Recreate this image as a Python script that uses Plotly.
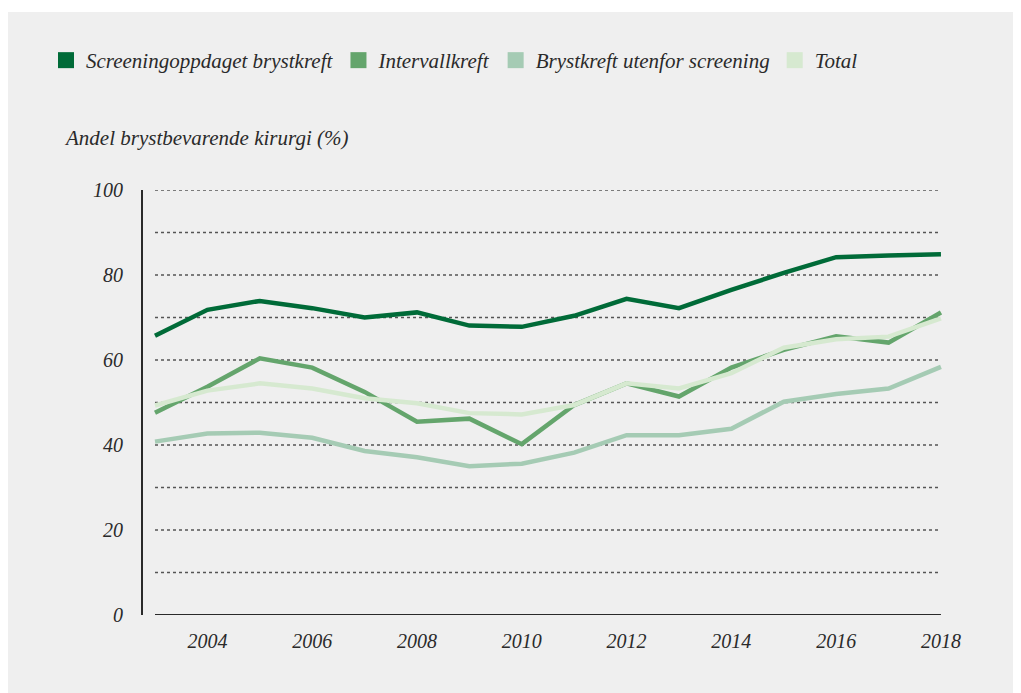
import plotly.graph_objects as go

years = list(range(2003, 2019))
screening = [65.7, 71.8, 73.9, 72.2, 70.0, 71.2, 68.1, 67.8, 70.4, 74.4, 72.2, 76.5, 80.5, 84.2, 84.6, 84.9]
intervall = [47.6, 53.7, 60.4, 58.2, 52.5, 45.5, 46.2, 40.2, 49.4, 54.5, 51.4, 58.2, 62.4, 65.6, 64.1, 71.2]
utenfor = [40.8, 42.7, 42.9, 41.7, 38.6, 37.1, 35.0, 35.6, 38.2, 42.3, 42.3, 43.8, 50.2, 52.0, 53.3, 58.4]
total = [49.3, 52.8, 54.5, 53.3, 51.0, 49.8, 47.5, 47.2, 49.4, 54.5, 53.3, 56.9, 62.9, 64.9, 65.5, 69.8]

names = ["Screeningoppdaget brystkreft", "Intervallkreft", "Brystkreft utenfor screening", "Total"]
colors = ["#006b38", "#64a56c", "#a5cbb4", "#d6e9d0"]
series = [screening, intervall, utenfor, total]

y_ticks = [0, 20, 40, 60, 80, 100]
grid_vals = [10, 20, 30, 40, 50, 60, 70, 80, 90, 100]
x_ticks = [2004, 2006, 2008, 2010, 2012, 2014, 2016, 2018]

OFF = 8  # page body margin
W, H = 1021 - OFF, 693 - OFF
L, R, T, B = 143 - OFF, 942 - OFF, 190 - OFF, 615 - OFF

FONT = "Liberation Serif"
TXT = "#2a2a2a"

fig = go.Figure()

for i in range(4):
    fig.add_trace(go.Scatter(x=years, y=series[i], mode="lines",
                             line=dict(color=colors[i], width=4.5),
                             showlegend=False, hoverinfo="skip"))
for i in range(4):
    fig.add_trace(go.Scatter(x=[None], y=[None], mode="markers", name=names[i],
                             marker=dict(symbol="square", size=16, color=colors[i]),
                             showlegend=True))

pw, ph = R - L, B - T
def px2paper_x(px):
    return (px - OFF - L) / pw
def px2paper_y(py):
    return (B - (py - OFF)) / ph

shapes = [dict(type="rect", xref="paper", yref="paper", layer="below",
               x0=px2paper_x(8), x1=px2paper_x(1040), y0=px2paper_y(720), y1=px2paper_y(12),
               fillcolor="#efefef", line=dict(width=0))]
for g in grid_vals:
    shapes.append(dict(type="line", xref="x", yref="y", x0=2003, x1=2018, y0=g, y1=g,
                       layer="below", line=dict(color="#555555", width=1.3, dash="dot")))
shapes.append(dict(type="line", xref="x", yref="y", x0=2003, x1=2018, y0=0, y1=0,
                   layer="above", line=dict(color="#2a2a2a", width=2)))

x0 = 2003 - (155 - 143) / ((941 - 155) / 15)

fig.update_layout(
    width=W, height=H,
    margin=dict(l=L, r=W - R, t=T, b=H - B, pad=0),
    paper_bgcolor="white",
    plot_bgcolor="rgba(0,0,0,0)",
    shapes=shapes,
    font=dict(family=FONT, color=TXT, size=18, style="italic"),
    xaxis=dict(range=[x0, 2018.02], tickvals=x_ticks, ticktext=[str(v) for v in x_ticks],
               showgrid=False, zeroline=False, showline=False, ticks="",
               tickfont=dict(family=FONT, size=20, color=TXT, style="italic"), ticklabelstandoff=12),
    yaxis=dict(range=[0, 100], tickvals=y_ticks, ticktext=[str(v) for v in y_ticks],
               showgrid=False, zeroline=False, showline=True, linecolor="#2a2a2a", linewidth=2,
               ticks="", tickfont=dict(family=FONT, size=20, color=TXT, style="italic"),
               ticklabelstandoff=14),
    legend=dict(orientation="h", x=px2paper_x(46), y=px2paper_y(40), xanchor="left", yanchor="top",
                font=dict(family=FONT, size=21, color=TXT, style="italic"),
                bgcolor="rgba(0,0,0,0)", itemwidth=30, tracegroupgap=0),
    annotations=[dict(text="Andel brystbevarende kirurgi (%)", xref="paper", yref="paper",
                      x=px2paper_x(62), y=px2paper_y(138), xanchor="left", yanchor="middle",
                      showarrow=False, font=dict(family=FONT, size=21, color=TXT, style="italic"))],
)

fig.write_html("out.html")
